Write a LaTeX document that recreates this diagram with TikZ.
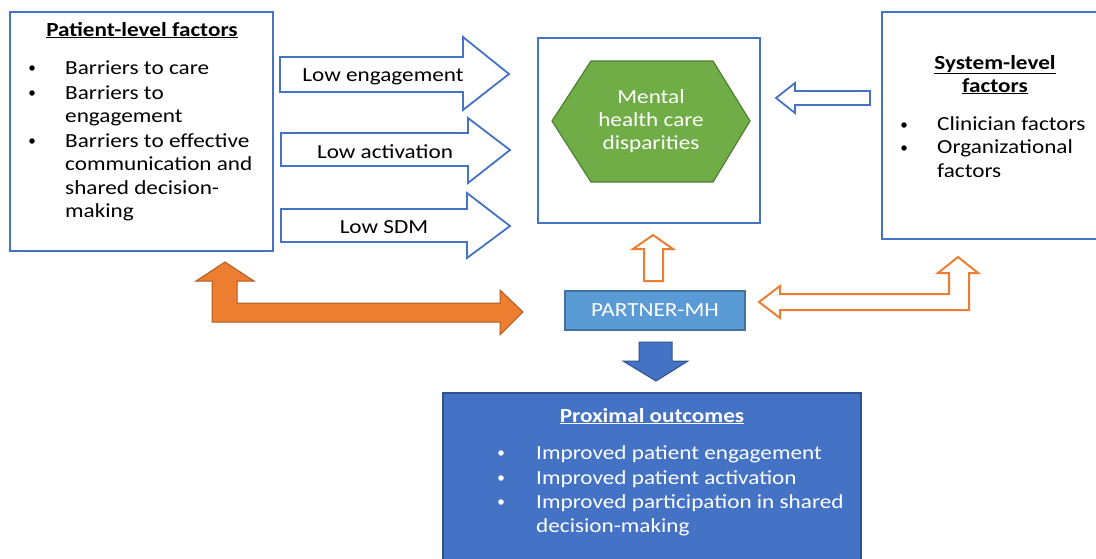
\documentclass[tikz,border=0pt]{standalone}
\usepackage{fontspec}
\setmainfont{Carlito}[FakeStretch=1.16]
\definecolor{boxblue}{HTML}{4472C4}
\definecolor{darkblue}{HTML}{2F528F}
\definecolor{lightblue}{HTML}{5B9BD5}
\definecolor{midblue}{HTML}{41719C}
\definecolor{orangef}{HTML}{ED7D31}
\definecolor{oranged}{HTML}{AE5A21}
\definecolor{greenf}{HTML}{70AD47}
\definecolor{greend}{HTML}{507E32}
\tikzset{
  txt/.style={font=\fontsize{20}{24}\selectfont, inner sep=0pt, anchor=base west},
  ctxt/.style={txt, anchor=base},
  ttl/.style={ctxt, font=\bfseries\fontsize{20}{24}\selectfont},
  bul/.style={fill=black, circle, inner sep=0pt, minimum size=5.5pt},
  wbul/.style={fill=white, circle, inner sep=0pt, minimum size=5.5pt},
  framebox/.style={draw=boxblue, line width=1.6pt, fill=white, inner sep=0pt},
  bluearrow/.style={draw=boxblue, line width=1.8pt, fill=white, line join=miter},
  orangeout/.style={draw=orangef, line width=2pt, fill=white, line join=miter},
  orangefill/.style={draw=oranged, line width=1pt, fill=orangef, line join=miter},
  downarrow/.style={draw=darkblue, line width=1pt, fill=boxblue, line join=miter},
}
\newcommand{\ul}[1]{\underline{\smash{#1}\vphantom{g}}}
\begin{document}
\begin{tikzpicture}[x=1pt, y=-1pt]
\useasboundingbox (0,0) rectangle (1096,558);
\clip (0,0) rectangle (1096,558);

% ---------- Patient-level box ----------
\draw[framebox] (10,12) rectangle (273,251);
\node (ptitle) [ttl] at (142,36) {\underline{Patient-level factors}};
\foreach \y/\t [count=\i] in {74/Barriers to care, 99/Barriers to, 122/engagement, 147/Barriers to effective, 170/communication and, 194/shared decision-, 217/making}
  \node (pl\i) [txt] at (65,\y) {\t};
\foreach \y [count=\i] in {68,93,141}
  \node (pb\i) [bul] at (32,\y) {};

% ---------- Blue outline arrows ----------
\draw[bluearrow] (280,57) -- (463,57) -- (463,37) -- (509,74) -- (463,110) -- (463,92) -- (280,92) -- cycle;
\node (a1) [ctxt] at (383,81) {Low engagement};
\draw[bluearrow] (281,133) -- (468,133) -- (468,118) -- (510,150) -- (468,183) -- (468,166) -- (281,166) -- cycle;
\node (a2) [ctxt] at (385,158) {Low activation};
\draw[bluearrow] (281,209) -- (467,209) -- (467,193) -- (510,226) -- (467,258) -- (467,242) -- (281,242) -- cycle;
\node (a3) [ctxt] at (384,233) {Low SDM};

% ---------- Central box with hexagon ----------
\draw[framebox] (538,38) rectangle (760,223);
\draw[fill=greenf, draw=greend, line width=1.2pt, line join=miter]
  (552,121) -- (591,61) -- (713,61) -- (750,121) -- (713,182) -- (591,182) -- cycle;
\node (h1) [ctxt, text=white] at (651,103) {Mental};
\node (h2) [ctxt, text=white] at (651,126) {health care};
\node (h3) [ctxt, text=white] at (651,149) {disparities};

% ---------- Left-pointing arrow from system box ----------
\draw[bluearrow] (870,91) -- (795,91) -- (795,83) -- (776,98) -- (795,113) -- (795,105) -- (870,105) -- cycle;

% ---------- System-level box ----------
\draw[framebox] (882,12) rectangle (1110,239);
\node (s1) [ttl] at (995,69) {\underline{System-level}};
\node (s2) [ttl] at (995,92) {\underline{factors}};
\node (s3) [txt] at (937,130) {Clinician factors};
\node (s4) [txt] at (937,153) {Organizational};
\node (s5) [txt] at (937,177) {factors};
\node (sb1) [bul] at (904,125) {};
\node (sb2) [bul] at (904,148) {};

% ---------- Orange filled L double arrow ----------
\draw[orangefill] (225,262) -- (254,281) -- (237,281) -- (237,303) -- (500,303) -- (500,290) -- (523,312) -- (500,335) -- (500,322) -- (212,322) -- (212,281) -- (196,281) -- cycle;

% ---------- Orange outline up arrow ----------
\draw[orangeout] (653,235) -- (673,249) -- (663,249) -- (663,281) -- (644,281) -- (644,249) -- (633,249) -- cycle;

% ---------- PARTNER-MH ----------
\node (partner) [draw=midblue, line width=1.4pt, fill=lightblue, minimum width=180pt, minimum height=39pt, inner sep=0pt,
  font=\fontsize{20}{24}\selectfont, text=white] at (655,310.5) {PARTNER-MH};

% ---------- Orange outline L arrow ----------
\draw[orangeout] (759,302) -- (780,286) -- (780,294) -- (949,294) -- (949,273) -- (938,273) -- (958,257) -- (978,273) -- (969,273) -- (969,310) -- (780,310) -- (780,318) -- cycle;

% ---------- Blue filled down arrow ----------
\draw[downarrow] (639,342) -- (672,342) -- (672,361) -- (688,361) -- (656,381) -- (623,361) -- (639,361) -- cycle;

% ---------- Proximal outcomes box ----------
\draw[draw=darkblue, line width=1.4pt, fill=boxblue] (443,393) rectangle (861,570);
\node (ptit) [ttl, text=white] at (652,422) {\underline{Proximal outcomes}};
\foreach \y/\t [count=\i] in {459/Improved patient engagement, 484/Improved patient activation, 508/Improved participation in shared, 532/decision-making}
  \node (po\i) [txt, text=white] at (536,\y) {\t};
\foreach \y [count=\i] in {453,478,502}
  \node (pob\i) [wbul] at (501,\y) {};
\end{tikzpicture}
\end{document}
